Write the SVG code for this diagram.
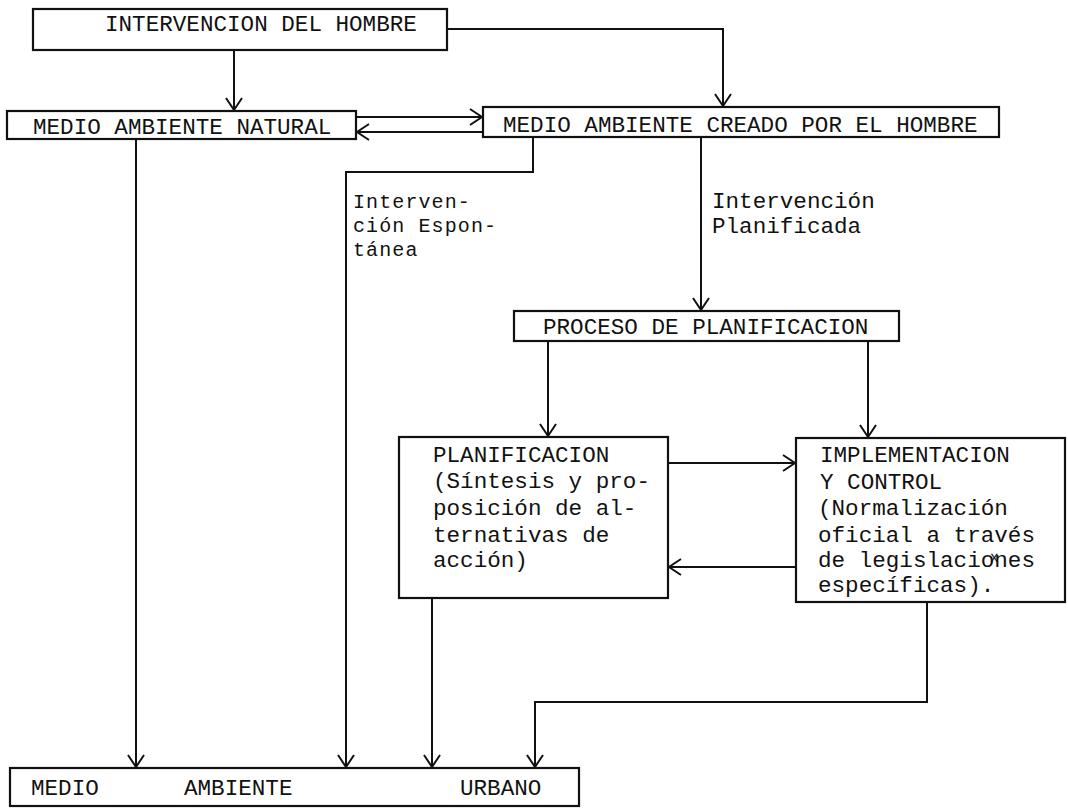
<svg xmlns="http://www.w3.org/2000/svg" width="1068" height="809" viewBox="0 0 1068 809">
<defs>
<style>
.box{fill:#fff;stroke:#111;stroke-width:2.2}
.t{font-family:"Liberation Mono","DejaVu Sans Mono",monospace;font-size:22.6px;fill:#111}
.s{font-size:20px;letter-spacing:1.1px}
.c{fill:none;stroke:#111;stroke-width:2}
</style>
<marker id="ah" viewBox="-14 -10 16 20" markerWidth="16" markerHeight="20" refX="0" refY="0" orient="auto" markerUnits="userSpaceOnUse">
<path d="M-12,-8 L0,0 L-12,8" fill="none" stroke="#111" stroke-width="2"/>
</marker>
</defs>
<rect width="1068" height="809" fill="#fff"/>
<g id="connectors">
<path class="c" d="M234,50 V110" marker-end="url(#ah)"/>
<path class="c" d="M447,29 H723 V106" marker-end="url(#ah)"/>
<path class="c" d="M356,117 H482" marker-end="url(#ah)"/>
<path class="c" d="M483,132 H357" marker-end="url(#ah)"/>
<path class="c" d="M136,139 V767" marker-end="url(#ah)"/>
<path class="c" d="M533,137 V172 H346 V767" marker-end="url(#ah)"/>
<path class="c" d="M701,137 V310" marker-end="url(#ah)"/>
<path class="c" d="M548,341 V436" marker-end="url(#ah)"/>
<path class="c" d="M868,341 V437" marker-end="url(#ah)"/>
<path class="c" d="M668,463 H795" marker-end="url(#ah)"/>
<path class="c" d="M796,567 H669" marker-end="url(#ah)"/>
<path class="c" d="M432,598 V767" marker-end="url(#ah)"/>
<path class="c" d="M927,602 V702 H535 V767" marker-end="url(#ah)"/>
<text class="t s" x="353" y="208">Interven-</text>
<text class="t s" x="353" y="232">ción Espon-</text>
<text class="t s" x="353" y="256">tánea</text>
<text class="t" x="712" y="208">Intervención</text>
<text class="t" x="712" y="233">Planificada</text>
</g>
<g id="n1">
<rect class="box" x="33" y="9" width="414" height="41"/>
<text class="t" x="105" y="31">INTERVENCION DEL HOMBRE</text>
</g>
<g id="n2">
<rect class="box" x="7" y="111" width="349" height="28"/>
<text class="t" x="33" y="134">MEDIO AMBIENTE NATURAL</text>
</g>
<g id="n3">
<rect class="box" x="483" y="107" width="516" height="30"/>
<text class="t" x="503" y="132">MEDIO AMBIENTE CREADO POR EL HOMBRE</text>
</g>
<g id="n4">
<rect class="box" x="514" y="311" width="385" height="30"/>
<text class="t" x="543" y="334">PROCESO DE PLANIFICACION</text>
</g>
<g id="n5">
<rect class="box" x="399" y="437" width="269" height="161"/>
<text class="t" x="433" y="462">PLANIFICACION</text>
<text class="t" x="433" y="488">(Síntesis y pro-</text>
<text class="t" x="433" y="515">posición de al-</text>
<text class="t" x="433" y="542">ternativas de</text>
<text class="t" x="433" y="567">acción)</text>
</g>
<g id="n6">
<rect class="box" x="796" y="438" width="269" height="164"/>
<text class="t" x="820" y="462">IMPLEMENTACION</text>
<text class="t" x="820" y="489">Y CONTROL</text>
<text class="t" x="818" y="515">(Normalización</text>
<text class="t" x="818" y="542">oficial a través</text>
<text class="t" x="818" y="567">de legislacioͯnes</text>
<text class="t" x="818" y="592">específicas).</text>
</g>
<g id="n7">
<rect class="box" x="10" y="768" width="569" height="38"/>
<text class="t" x="31" y="795">MEDIO</text>
<text class="t" x="184" y="795">AMBIENTE</text>
<text class="t" x="460" y="795">URBANO</text>
</g>
</svg>
